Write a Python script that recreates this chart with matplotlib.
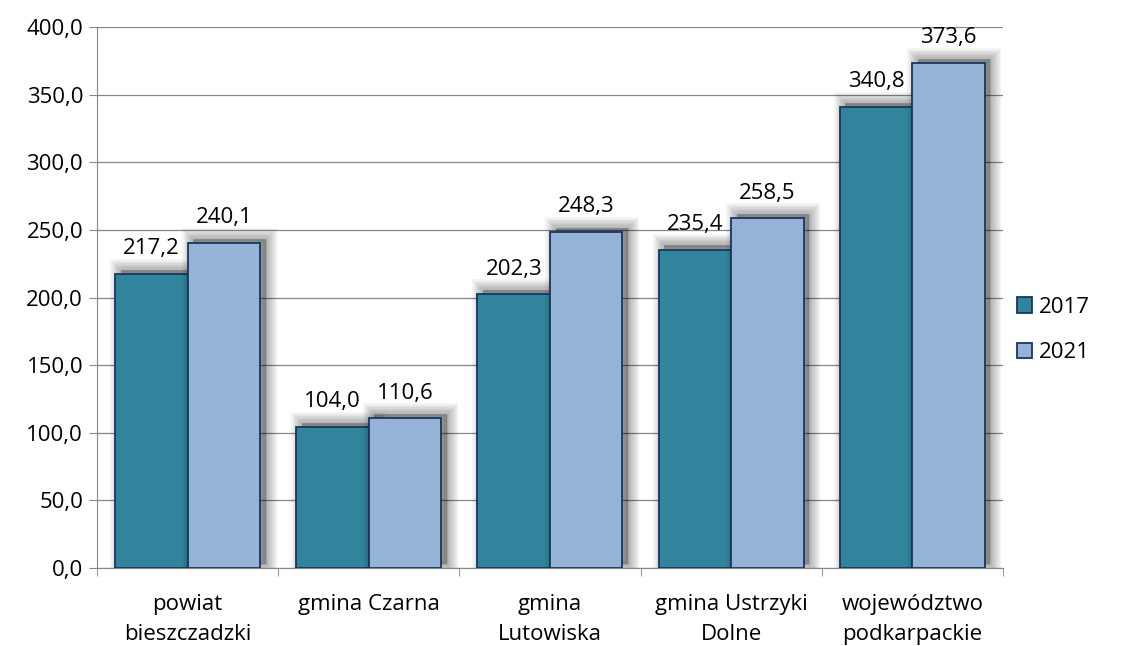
import numpy as np
import matplotlib.pyplot as plt
import matplotlib.patheffects as pe

kategorie = ["powiat\nbieszczadzki", "gmina Czarna", "gmina\nLutowiska",
             "gmina Ustrzyki\nDolne", "województwo\npodkarpackie"]
lata = ["2017", "2021"]
wart_2017 = [217.2, 104.0, 202.3, 235.4, 340.8]
wart_2021 = [240.1, 110.6, 248.3, 258.5, 373.6]
kolory = ["#31849B", "#95B3D7"]

plt.rcParams['font.family'] = ['Open Sans', 'DejaVu Sans']
rozm = 16

fig = plt.figure(figsize=(11.21, 6.46), dpi=100)
ax = fig.add_axes([0.0865, 0.1207, 0.8082, 0.8375])

# rozmyty cień jak w Excelu
cien = [pe.SimplePatchShadow(offset=(4, 3), shadow_rgbFace='k', alpha=0.04,
                             linewidth=w) for w in range(16, 0, -2)]
cien.append(pe.Normal())

x = np.arange(len(kategorie))
szer = 0.4
for i, (wart, kol, rok) in enumerate(zip([wart_2017, wart_2021], kolory, lata)):
    pos = x - 0.4 + i * szer + szer / 2
    bary = ax.bar(pos, wart, szer, color=kol, edgecolor='#17375E',
                  linewidth=1.3, label=rok, zorder=3)
    for b in bary:
        b.set_path_effects(cien)
    for p, v in zip(pos, wart):
        ax.text(p, v + 11, f"{v:.1f}".replace('.', ','), ha='center', va='bottom',
                fontsize=rozm, zorder=5)

ax.set_xlim(-0.5, len(kategorie) - 0.5)
ax.set_ylim(0, 400)
ax.set_yticks(np.arange(0, 401, 50))
ax.set_yticklabels([f"{v:.1f}".replace('.', ',') for v in np.arange(0, 401, 50)])
ax.set_xticks(x)
ax.set_xticklabels(kategorie, linespacing=1.55)
ax.set_xticks(np.arange(-0.5, len(kategorie), 1), minor=True)
ax.tick_params(axis='x', which='major', length=0, pad=19, labelsize=rozm)
ax.tick_params(axis='x', which='minor', length=6, color='#868686')
ax.tick_params(axis='y', length=6, color='#868686', labelsize=rozm, pad=4)
ax.grid(axis='y', color='#868686', linewidth=0.9, zorder=0)
ax.set_axisbelow(True)
for s in ['top', 'right']:
    ax.spines[s].set_visible(False)
for s in ['left', 'bottom']:
    ax.spines[s].set_color('#868686')

leg = ax.legend(loc='center left', bbox_to_anchor=(0.993, 0.44), frameon=False,
                fontsize=rozm, handlelength=0.7, handleheight=0.7,
                handletextpad=0.3, labelspacing=1.1)
for h in leg.legend_handles:
    h.set_path_effects([])

fig.savefig("out.png", dpi=100)
